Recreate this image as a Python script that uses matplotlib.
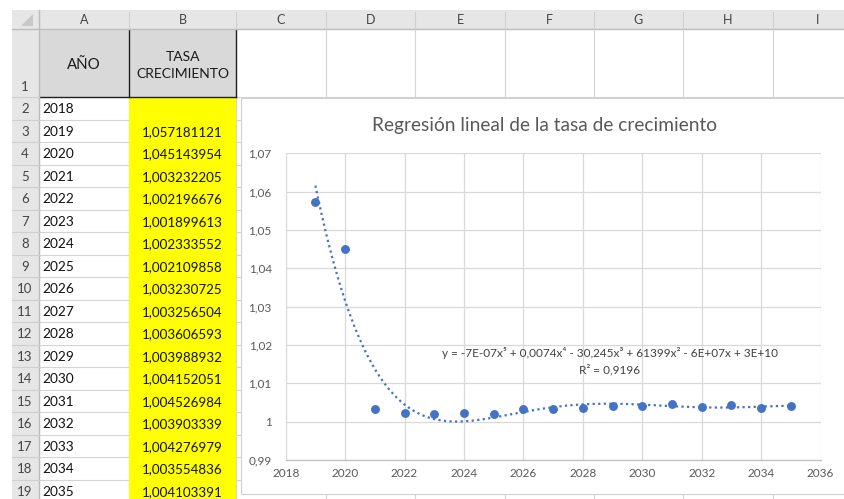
import numpy as np
import matplotlib
matplotlib.use('Agg')
import matplotlib.pyplot as plt
from matplotlib.patches import Rectangle, Polygon
from matplotlib.ticker import FuncFormatter

plt.rcParams['font.family'] = ['Lato', 'DejaVu Sans']

# ---------------- data ----------------
years = [2018, 2019, 2020, 2021, 2022, 2023, 2024, 2025, 2026,
         2027, 2028, 2029, 2030, 2031, 2032, 2033, 2034, 2035]
rates = [None, 1.057181121, 1.045143954, 1.003232205, 1.002196676,
         1.001899613, 1.002333552, 1.002109858, 1.003230725, 1.003256504,
         1.003606593, 1.003988932, 1.004152051, 1.004526984, 1.003903339,
         1.004276979, 1.003554836, 1.004103391]
rate_labels = ['', '1,057181121', '1,045143954', '1,003232205', '1,002196676',
               '1,001899613', '1,002333552', '1,002109858', '1,003230725',
               '1,003256504', '1,003606593', '1,003988932', '1,004152051',
               '1,004526984', '1,003903339', '1,004276979', '1,003554836',
               '1,004103391']
col_letters = ['A', 'B', 'C', 'D', 'E', 'F', 'G', 'H', 'I']
header_a = 'AÑO'
header_b = 'TASA\nCRECIMIENTO'
chart_title = 'Regresión lineal de la tasa de crecimiento'
equation = 'y = -7E-07x⁵ + 0,0074x⁴ - 30,245x³ + 61399x² - 6E+07x + 3E+10'
r2_label = 'R² = 0,9196'
x_ticks = [2018, 2020, 2022, 2024, 2026, 2028, 2030, 2032, 2034, 2036]
y_ticks = [0.99, 1.00, 1.01, 1.02, 1.03, 1.04, 1.05, 1.06, 1.07]

# ---------------- layout (pixels) ----------------
W, H = 844, 499
col_edges = [39, 129, 236, 326, 415, 505, 594, 683, 773, 862]
row_hdr_x0 = 12
col_hdr_y0, col_hdr_y1 = 10, 29
row1_bottom = 97
row_h = 22.5

fig = plt.figure(figsize=(W / 100, H / 100), dpi=100)
bg = fig.add_axes([0, 0, 1, 1], zorder=0)
bg.set_xlim(0, W)
bg.set_ylim(H, 0)
bg.axis('off')

grid_c = '#D4D4D4'
hdr_c = '#E6E6E6'
hdr_line = '#BDBDBD'
txt_hdr = '#444444'

n_rows = len(years) + 1
row_tops = [col_hdr_y1, row1_bottom] + [row1_bottom + i * row_h for i in range(1, n_rows)]
row_bottoms = row_tops[1:] + [row1_bottom + n_rows * row_h]

# cell gridlines
for x in col_edges:
    bg.plot([x, x], [col_hdr_y1, H], color=grid_c, lw=0.8, zorder=1)
for y in row_tops[1:]:
    bg.plot([col_edges[0], W], [y, y], color=grid_c, lw=0.8, zorder=1)

# yellow column B
bg.add_patch(Rectangle((col_edges[1], row1_bottom), col_edges[2] - col_edges[1],
                       H - row1_bottom, facecolor='#FFFF00', edgecolor='none', zorder=2))
# header cells A1, B1
bg.add_patch(Rectangle((col_edges[0], col_hdr_y1), col_edges[2] - col_edges[0],
                       row1_bottom - col_hdr_y1, facecolor='#D9D9D9', edgecolor='none', zorder=2))
bg.plot([col_edges[1], col_edges[1]], [col_hdr_y1, row1_bottom], color='#202020', lw=1.0, zorder=3)
bg.plot([col_edges[2], col_edges[2]], [col_hdr_y1, row1_bottom], color='#202020', lw=1.0, zorder=3)
bg.plot([col_edges[0], col_edges[2]], [row1_bottom, row1_bottom], color='#202020', lw=1.0, zorder=3)
bg.text((col_edges[0] + col_edges[1]) / 2, 65, header_a, ha='center', va='center',
        fontsize=10.8, color='#1a1a1a', zorder=4)
bg.text((col_edges[1] + col_edges[2]) / 2, 65, header_b, ha='center', va='center',
        fontsize=10, color='#1a1a1a', linespacing=1.5, zorder=4)

# column header band
bg.add_patch(Rectangle((row_hdr_x0, col_hdr_y0), W - row_hdr_x0, col_hdr_y1 - col_hdr_y0,
                       facecolor=hdr_c, edgecolor='none', zorder=2))
bg.plot([row_hdr_x0, W], [col_hdr_y1, col_hdr_y1], color=hdr_line, lw=1.0, zorder=3)
for x in col_edges:
    bg.plot([x, x], [col_hdr_y0 + 2, col_hdr_y1], color='#CFCFCF', lw=0.8, zorder=3)
for i, letter in enumerate(col_letters):
    bg.text((col_edges[i] + col_edges[i + 1]) / 2, (col_hdr_y0 + col_hdr_y1) / 2 + 0.5, letter,
            ha='center', va='center', fontsize=9, color=txt_hdr, zorder=4)
# top-left corner triangle
bg.add_patch(Polygon([[33, 14], [33, 26], [21, 26]], closed=True,
                     facecolor='#C8C8C8', edgecolor='none', zorder=4))

# row header band
bg.add_patch(Rectangle((row_hdr_x0, col_hdr_y1), col_edges[0] - row_hdr_x0, H - col_hdr_y1,
                       facecolor=hdr_c, edgecolor='none', zorder=2))
bg.plot([col_edges[0], col_edges[0]], [col_hdr_y0, H], color=hdr_line, lw=1.0, zorder=3)
for y in row_tops[1:]:
    bg.plot([row_hdr_x0, col_edges[0]], [y, y], color='#CFCFCF', lw=0.8, zorder=3)
for r in range(n_rows):
    yt = row_tops[r]
    yb = row_bottoms[r]
    ymid = yb - 10 if r == 0 else (yt + yb) / 2 + 1
    bg.text(25, ymid, str(r + 1), ha='center', va='center', fontsize=9.5,
            color=txt_hdr, zorder=4)

# cell values
for i, (yr, lab) in enumerate(zip(years, rate_labels)):
    r = i + 1
    ymid = (row_tops[r] + row_bottoms[r]) / 2 + 1
    bg.text(42, ymid, str(yr), ha='left', va='center', fontsize=9.8, color='#111111', zorder=4)
    if lab:
        bg.text(223, ymid, lab, ha='right', va='center', fontsize=9.6, color='#111111', zorder=4)

# chart object
bg.add_patch(Rectangle((240.5, 97.5), 700, 494 - 97.5, facecolor='white',
                       edgecolor='#D0D0D0', lw=0.8, zorder=5))
bg.text(545, 125, chart_title, ha='center', va='center', fontsize=13.8,
        color='#595959', zorder=6)

# ---------------- chart ----------------
px0, px1 = 285.7, 820.5
py_top, py_bot = 153.3, 460.0
ax = fig.add_axes([px0 / W, 1 - py_bot / H, (px1 - px0) / W, (py_bot - py_top) / H], zorder=2)
ax.set_facecolor('none')

xs = np.array([y for y, v in zip(years, rates) if v is not None], dtype=float)
ys = np.array([v for v in rates if v is not None], dtype=float)

coef = np.polyfit(xs - 2027, ys, 5)
xf = np.linspace(xs.min(), xs.max(), 400)
yf = np.polyval(coef, xf - 2027)

ax.plot(xf, yf, linestyle=(0, (1, 1.5)), color='#4472C4', lw=1.6, zorder=3)
ax.plot(xs, ys, 'o', color='#4472C4', ms=6.4, zorder=4, markeredgewidth=0)

ax.set_xlim(2018, 2036)
ax.set_ylim(0.99, 1.07)
ax.set_xticks(x_ticks)
ax.set_yticks(y_ticks)


def yfmt(v, pos):
    s = f'{v:.2f}'.rstrip('0').rstrip('.')
    return s.replace('.', ',')


ax.yaxis.set_major_formatter(FuncFormatter(yfmt))
ax.grid(True, color='#D9D9D9', lw=0.9)
ax.set_axisbelow(True)
for s in ['top', 'right', 'left']:
    ax.spines[s].set_visible(False)
ax.spines['bottom'].set_color('#BFBFBF')
ax.spines['bottom'].set_linewidth(0.9)
ax.tick_params(axis='both', length=0, labelsize=8.5, colors='#595959')
ax.tick_params(axis='x', pad=6)
ax.tick_params(axis='y', pad=10)

ax.text(2028.9, 1.0179, equation, ha='center', va='center', fontsize=8.5,
        color='#404040', zorder=5)
ax.text(2028.9, 1.0136, r2_label, ha='center', va='center', fontsize=8.5,
        color='#404040', zorder=5)

fig.savefig('out.png', dpi=100)
